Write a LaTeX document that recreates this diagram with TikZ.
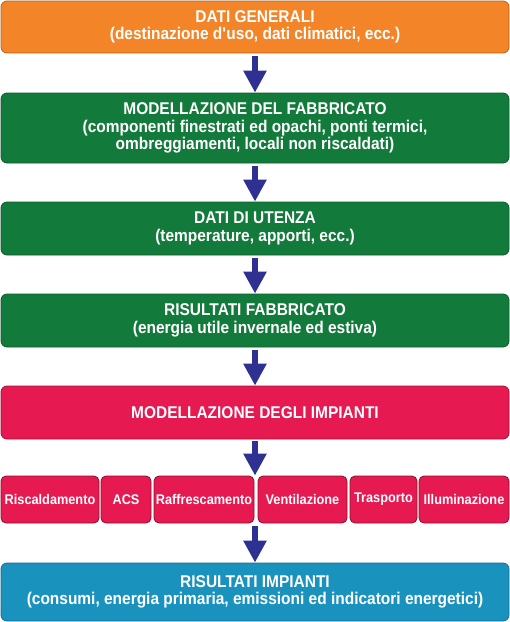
\documentclass[tikz,border=0pt]{standalone}
\usepackage{fontspec}
\setmainfont{Liberation Sans}[FakeStretch=0.91]
\definecolor{main}{RGB}{243,132,40}
\definecolor{second}{RGB}{18,122,58}
\definecolor{third}{RGB}{230,26,80}
\definecolor{fourth}{RGB}{26,146,190}
\definecolor{fifth}{RGB}{46,49,146}
\usetikzlibrary{
	arrows.meta,
	positioning
}
\tikzset{
  % arrow
	cstflow/.style     ={-{Triangle[width=22pt,length=22pt]}, line width=6.5pt, fifth},
  % node
	cstbox/.style      ={text=white,rounded corners=6pt,line width=0.8pt,inner sep=0pt,
	                     minimum width=508pt,align=center,font=\bfseries\fontsize{17}{17.5}\selectfont},
	cstbox1/.style     ={cstbox,fill=main,draw=main!75!black},
	cstbox2/.style     ={cstbox,fill=second,draw=second!75!black},
	cstbox3/.style     ={cstbox,fill=third,draw=third!70!black},
	cstbox4/.style     ={cstbox,fill=fourth,draw=fourth!75!black},
	cstsub/.style      ={text=white,fill=third,draw=third!60!black,rounded corners=5pt,line width=0.8pt,
	                     inner sep=0pt,minimum height=47pt,font=\bfseries\fontsize{14}{16}\selectfont}
}

\begin{document}
\begin{tikzpicture}[x=1pt,y=1pt]
			\useasboundingbox (0,0) rectangle (510,-622);
			% main chain
			\node[cstbox1,minimum height=52pt] (gen) at (255,-27)
				{DATI GENERALI\\(destinazione d\textquotesingle uso, dati climatici, ecc.)};
			\node[cstbox2,minimum height=70pt] (fab) at (255,-128)
				{MODELLAZIONE DEL FABBRICATO\\(componenti finestrati ed opachi, ponti termici,\\ombreggiamenti, locali non riscaldati)};
			\node[cstbox2,minimum height=53pt] (ute) at (255,-228.5)
				{DATI DI UTENZA\\(temperature, apporti, ecc.)};
			\node[cstbox2,minimum height=53pt] (res) at (255,-320.5)
				{RISULTATI FABBRICATO\\(energia utile invernale ed estiva)};
			\node[cstbox3,minimum height=53pt] (imp) at (255,-412.5)
				{MODELLAZIONE DEGLI IMPIANTI};
			% services
			\node[cstsub,minimum width=98pt]  (risc) at (50,-499.5)   {Riscaldamento};
			\node[cstsub,minimum width=50pt]  (acs)  at (126,-499.5)  {ACS};
			\node[cstsub,minimum width=100pt] (raff) at (204,-499.5)  {Raffrescamento};
			\node[cstsub,minimum width=89pt]  (vent) at (302.5,-499.5) {Ventilazione};
			\node[cstsub,minimum width=67pt]  (tras) at (383.5,-499.5) {Trasporto};
			\node[cstsub,minimum width=90pt]  (illu) at (464,-499.5)  {Illuminazione};
			\node[cstbox4,minimum height=58pt] (rimp) at (255,-592)
				{RISULTATI IMPIANTI\\(consumi, energia primaria, emissioni ed indicatori energetici)};
			% arrows
			\draw[cstflow] ([yshift=-3pt]gen.south) -- (fab.north);
			\draw[cstflow] ([yshift=-3pt]fab.south) -- (ute.north);
			\draw[cstflow] ([yshift=-3pt]ute.south) -- (res.north);
			\draw[cstflow] ([yshift=-3pt]res.south) -- (imp.north);
			\draw[cstflow] ([yshift=-2pt]imp.south) -- (imp.south |- raff.north);
			\draw[cstflow] ([yshift=-3pt]imp.south |- raff.south) -- (rimp.north);
		\end{tikzpicture}
\end{document}
